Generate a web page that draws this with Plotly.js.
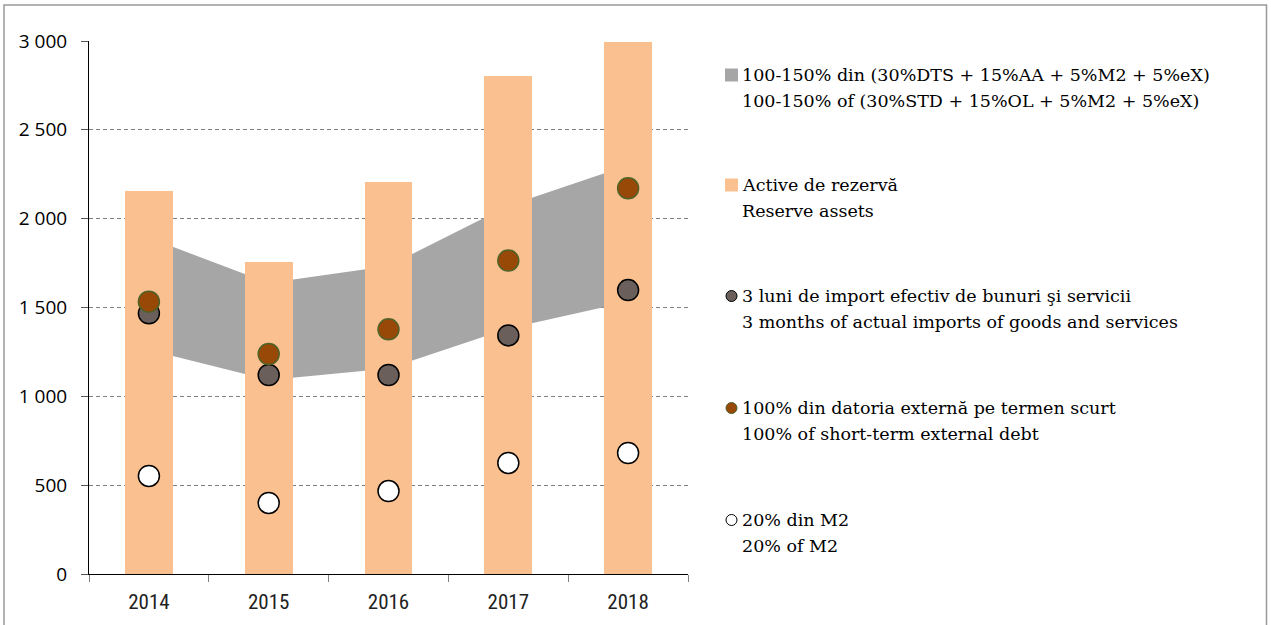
<!DOCTYPE html>
<html>
<head>
<meta charset="utf-8">
<script src="https://cdn.plot.ly/plotly-3.0.1.min.js"></script>
<style>html,body{margin:0;padding:0;background:#fff;}#chart{width:1271px;height:625px;}</style>
</head>
<body>
<div id="chart"></div>
<script>
// ---- data ----
var years = ['2014', '2015', '2016', '2017', '2018'];
var reserveAssets = [2157, 1758, 2205, 2803, 2996];
var bandLow = [1261, 1092, 1156, 1382, 1533];
var bandHigh = [1892, 1638, 1734, 2073, 2300];
var imports3m = [1467, 1120, 1120, 1343, 1598];
var shortTermDebt = [1533, 1238, 1377, 1764, 2171];
var m2Share = [552, 400, 467, 625, 681];
var yTickVals = [0, 500, 1000, 1500, 2000, 2500, 3000];
var yTickText = ['0', '500', '1 000', '1 500', '2 000', '2 500', '3 000'];
var legendLinesRo = [
  '100-150% din (30%DTS + 15%AA + 5%M2 + 5%eX)',
  'Active de rezervă',
  '3 luni de import efectiv de bunuri şi servicii',
  '100% din datoria externă pe termen scurt',
  '20% din M2'
];
var legendLinesEn = [
  '100-150% of (30%STD + 15%OL + 5%M2 + 5%eX)',
  'Reserve assets',
  '3 months of actual imports of goods and services',
  '100% of short-term external debt',
  '20% of M2'
];

// ---- layout helpers (pixel -> paper) ----
var W = 1271, H = 625, L = 89, R = 688, T = 41, B = 574;
function px(x) { return (x - L) / (R - L); }
function py(y) { return (B - y) / (B - T); }

var grey = '#a6a6a6', orange = '#fac090', darkFill = '#6b5f5b', brown = '#984807', olive = '#4f6228';

var traces = [
  {x: years, y: bandLow, type: 'scatter', mode: 'lines', line: {width: 0, color: grey},
   xaxis: 'x', yaxis: 'y', showlegend: false, hoverinfo: 'skip'},
  {x: years, y: bandHigh, type: 'scatter', mode: 'lines', line: {width: 0, color: grey},
   fill: 'tonexty', fillcolor: grey, xaxis: 'x', yaxis: 'y', showlegend: false},
  {x: years, y: reserveAssets, type: 'bar', width: 0.4, marker: {color: orange},
   xaxis: 'x', yaxis: 'y2', showlegend: false},
  {x: years, y: m2Share, type: 'scatter', mode: 'markers', xaxis: 'x', yaxis: 'y3', showlegend: false,
   marker: {size: 21, color: '#ffffff', line: {color: '#000000', width: 1.5}}},
  {x: years, y: imports3m, type: 'scatter', mode: 'markers', xaxis: 'x', yaxis: 'y3', showlegend: false,
   marker: {size: 21, color: darkFill, line: {color: '#000000', width: 1.5}}},
  {x: years, y: shortTermDebt, type: 'scatter', mode: 'markers', xaxis: 'x', yaxis: 'y3', showlegend: false,
   marker: {size: 21, color: brown, line: {color: olive, width: 1.5}}}
];

var entryCenters = [88, 198, 309, 421, 533];
var annotations = [], shapes = [];
shapes.push({type: 'rect', xref: 'paper', yref: 'paper', x0: px(4), x1: px(1266.5), y0: py(650), y1: py(5),
  line: {color: '#999999', width: 1.5}, fillcolor: 'rgba(0,0,0,0)', layer: 'below'});
var legFont = {family: 'DejaVu Serif', size: 17.5, color: '#000'};
for (var i = 0; i < legendLinesRo.length; i++) {
  var c = entryCenters[i];
  annotations.push({xref: 'paper', yref: 'paper', x: px(740), y: py(c - 13), xanchor: 'left', yanchor: 'middle',
    align: 'left', showarrow: false, text: legendLinesRo[i], font: legFont});
  annotations.push({xref: 'paper', yref: 'paper', x: px(740), y: py(c + 13), xanchor: 'left', yanchor: 'middle',
    align: 'left', showarrow: false, text: legendLinesEn[i], font: legFont});
  var sy = c - 13, sx = 731.5;
  if (i < 2) {
    shapes.push({type: 'rect', xref: 'paper', yref: 'paper', x0: px(sx - 6.5), x1: px(sx + 6.5),
      y0: py(sy + 6.5), y1: py(sy - 6.5), line: {width: 0}, fillcolor: i === 0 ? grey : orange});
  } else {
    var fills = [darkFill, brown, '#ffffff'], lines = ['#000000', olive, '#000000'];
    shapes.push({type: 'circle', xref: 'paper', yref: 'paper', x0: px(sx - 5.5), x1: px(sx + 5.5),
      y0: py(sy + 5.5), y1: py(sy - 5.5), line: {width: 1, color: lines[i - 2]}, fillcolor: fills[i - 2]});
  }
}

var layout = {
  width: W, height: H,
  margin: {l: L, r: W - R, t: T, b: H - B, pad: 0},
  paper_bgcolor: '#ffffff', plot_bgcolor: '#ffffff',
  showlegend: false,
  xaxis: {type: 'category', range: [-0.5, 4.5], showline: true, linecolor: '#000', linewidth: 1,
    ticks: 'outside', tickson: 'boundaries', ticklen: 7, tickcolor: '#808080', showgrid: false,
    ticklabelstandoff: 9,
    tickfont: {family: 'Roboto Condensed, Liberation Sans Narrow, Liberation Sans', size: 21, color: '#222'},
    fixedrange: true},
  yaxis: {range: [0, 3000], tickvals: yTickVals, ticktext: yTickText, showline: true, linecolor: '#000',
    linewidth: 1, ticks: 'outside', ticklen: 7, tickcolor: '#595959', showgrid: true,
    gridcolor: '#808080', griddash: '4px,3px', gridwidth: 1, zeroline: false, ticklabelstandoff: 10,
    tickfont: {family: 'Open Sans, Noto Sans', size: 19, color: '#000'}, fixedrange: true},
  yaxis2: {range: [0, 3000], overlaying: 'y', visible: false, fixedrange: true},
  yaxis3: {range: [0, 3000], overlaying: 'y', visible: false, fixedrange: true},
  bargap: 0,
  annotations: annotations,
  shapes: shapes
};

Plotly.newPlot('chart', traces, layout, {displayModeBar: false, staticPlot: true});
</script>
</body>
</html>
